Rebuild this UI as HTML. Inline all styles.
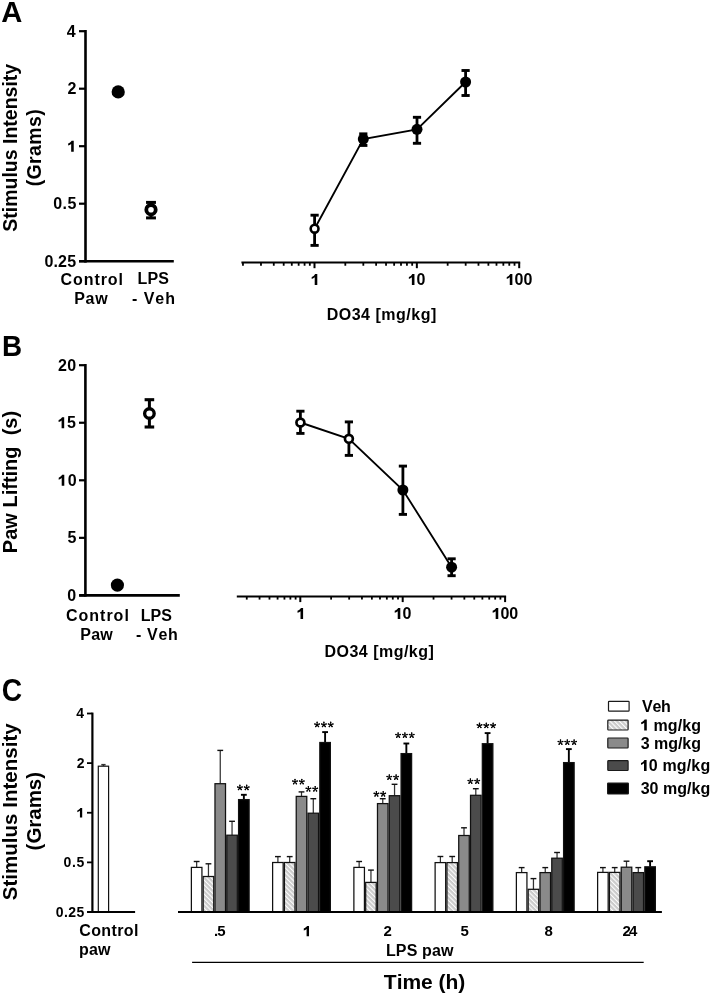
<!DOCTYPE html>
<html><head><meta charset="utf-8"><style>
html,body{margin:0;padding:0;background:#fff;}
body{width:711px;height:996px;overflow:hidden;}
svg{display:block;filter:grayscale(1);}
text{font-family:"Liberation Sans", sans-serif;font-weight:bold;fill:#000;font-kerning:none;font-feature-settings:"kern" 0;white-space:pre;}
</style></head><body>
<svg width="711" height="996" viewBox="0 0 711 996">
<defs>
<pattern id="hatch" patternUnits="userSpaceOnUse" width="3.3" height="3.3" patternTransform="rotate(-45)">
<rect width="3.3" height="3.3" fill="#cbcbcb"/>
<rect x="0" y="0" width="1.05" height="3.3" fill="#fff"/>
</pattern>
</defs>
<rect width="711" height="996" fill="#fff"/>
<text x="1.27" y="21.60" font-size="29.2">A</text>
<text transform="translate(16.50,231.20) rotate(-90)" x="-0.56" y="0" font-size="19.5">Stimulus&#160;Intensity</text>
<text transform="translate(41.00,185.30) rotate(-90)" x="-0.97" y="0" font-size="19.5" letter-spacing="0.362">(Grams)</text>
<line x1="85.50" y1="30.00" x2="85.50" y2="262.60" stroke="#000" stroke-width="2.6"/>
<line x1="79.00" y1="261.30" x2="173.80" y2="261.30" stroke="#000" stroke-width="2.6"/>
<line x1="79.00" y1="31.20" x2="85.50" y2="31.20" stroke="#000" stroke-width="2.2"/>
<text x="66.85" y="36.70" font-size="16">4</text>
<line x1="79.00" y1="88.70" x2="85.50" y2="88.70" stroke="#000" stroke-width="2.2"/>
<text x="67.44" y="94.20" font-size="16">2</text>
<line x1="79.00" y1="146.20" x2="85.50" y2="146.20" stroke="#000" stroke-width="2.2"/>
<path transform="translate(66.981,151.700) scale(0.007812,-0.007812)" d="M866 0L535 0L535 990Q370 850 150 790L150 1045Q300 1100 430 1210Q540 1310 590 1409L866 1409Z"/>
<line x1="79.00" y1="203.70" x2="85.50" y2="203.70" stroke="#000" stroke-width="2.2"/>
<text x="53.27" y="209.20" font-size="16" letter-spacing="0.418">0.5</text>
<line x1="79.00" y1="261.20" x2="85.50" y2="261.20" stroke="#000" stroke-width="2.2"/>
<text x="44.47" y="266.70" font-size="16" letter-spacing="0.146">0.25</text>
<text x="60.54" y="284.80" font-size="16" letter-spacing="0.936">Control</text>
<text x="74.13" y="303.70" font-size="16" letter-spacing="0.762">Paw</text>
<text x="137.53" y="284.20" font-size="16" letter-spacing="0.189">LPS</text>
<text x="131.97" y="303.50" font-size="16" letter-spacing="0.975">-&#160;Veh</text>
<circle cx="118.20" cy="91.90" r="6.6" fill="#000"/>
<line x1="151.00" y1="202.40" x2="151.00" y2="217.90" stroke="#000" stroke-width="3.0"/>
<line x1="146.05" y1="202.40" x2="155.95" y2="202.40" stroke="#000" stroke-width="3.0"/>
<line x1="146.05" y1="217.90" x2="155.95" y2="217.90" stroke="#000" stroke-width="3.0"/>
<circle cx="151.00" cy="209.70" r="4.70" fill="#fff" stroke="#000" stroke-width="3.80"/>
<line x1="241.40" y1="262.50" x2="520.20" y2="262.50" stroke="#000" stroke-width="2.0"/>
<line x1="242.96" y1="262.50" x2="242.96" y2="265.75" stroke="#000" stroke-width="1.8"/>
<line x1="260.98" y1="262.50" x2="260.98" y2="265.75" stroke="#000" stroke-width="1.8"/>
<line x1="273.77" y1="262.50" x2="273.77" y2="265.75" stroke="#000" stroke-width="1.8"/>
<line x1="283.69" y1="262.50" x2="283.69" y2="265.75" stroke="#000" stroke-width="1.8"/>
<line x1="291.79" y1="262.50" x2="291.79" y2="265.75" stroke="#000" stroke-width="1.8"/>
<line x1="298.65" y1="262.50" x2="298.65" y2="265.75" stroke="#000" stroke-width="1.8"/>
<line x1="304.58" y1="262.50" x2="304.58" y2="265.75" stroke="#000" stroke-width="1.8"/>
<line x1="309.82" y1="262.50" x2="309.82" y2="265.75" stroke="#000" stroke-width="1.8"/>
<line x1="345.31" y1="262.50" x2="345.31" y2="265.75" stroke="#000" stroke-width="1.8"/>
<line x1="363.33" y1="262.50" x2="363.33" y2="265.75" stroke="#000" stroke-width="1.8"/>
<line x1="376.12" y1="262.50" x2="376.12" y2="265.75" stroke="#000" stroke-width="1.8"/>
<line x1="386.04" y1="262.50" x2="386.04" y2="265.75" stroke="#000" stroke-width="1.8"/>
<line x1="394.14" y1="262.50" x2="394.14" y2="265.75" stroke="#000" stroke-width="1.8"/>
<line x1="401.00" y1="262.50" x2="401.00" y2="265.75" stroke="#000" stroke-width="1.8"/>
<line x1="406.93" y1="262.50" x2="406.93" y2="265.75" stroke="#000" stroke-width="1.8"/>
<line x1="412.17" y1="262.50" x2="412.17" y2="265.75" stroke="#000" stroke-width="1.8"/>
<line x1="447.66" y1="262.50" x2="447.66" y2="265.75" stroke="#000" stroke-width="1.8"/>
<line x1="465.68" y1="262.50" x2="465.68" y2="265.75" stroke="#000" stroke-width="1.8"/>
<line x1="478.47" y1="262.50" x2="478.47" y2="265.75" stroke="#000" stroke-width="1.8"/>
<line x1="488.39" y1="262.50" x2="488.39" y2="265.75" stroke="#000" stroke-width="1.8"/>
<line x1="496.49" y1="262.50" x2="496.49" y2="265.75" stroke="#000" stroke-width="1.8"/>
<line x1="503.35" y1="262.50" x2="503.35" y2="265.75" stroke="#000" stroke-width="1.8"/>
<line x1="509.28" y1="262.50" x2="509.28" y2="265.75" stroke="#000" stroke-width="1.8"/>
<line x1="514.52" y1="262.50" x2="514.52" y2="265.75" stroke="#000" stroke-width="1.8"/>
<line x1="314.50" y1="262.50" x2="314.50" y2="268.20" stroke="#000" stroke-width="2.0"/>
<line x1="416.85" y1="262.50" x2="416.85" y2="268.20" stroke="#000" stroke-width="2.0"/>
<line x1="519.20" y1="262.50" x2="519.20" y2="268.20" stroke="#000" stroke-width="2.0"/>
<path transform="translate(310.531,285.100) scale(0.007812,-0.007812)" d="M866 0L535 0L535 990Q370 850 150 790L150 1045Q300 1100 430 1210Q540 1310 590 1409L866 1409Z"/>
<path transform="translate(407.694,285.100) scale(0.007812,-0.007812)" d="M866 0L535 0L535 990Q370 850 150 790L150 1045Q300 1100 430 1210Q540 1310 590 1409L866 1409Z"/>
<text x="416.59" y="285.10" font-size="16">0</text>
<path transform="translate(505.595,285.100) scale(0.007812,-0.007812)" d="M866 0L535 0L535 990Q370 850 150 790L150 1045Q300 1100 430 1210Q540 1310 590 1409L866 1409Z"/>
<text x="514.49" y="285.10" font-size="16">00</text>
<text x="326.63" y="319.50" font-size="16" letter-spacing="0.514">DO34&#160;[mg/kg]</text>
<polyline points="314.60,228.70 363.30,139.10 417.00,129.30 465.60,82.00" fill="none" stroke="#000" stroke-width="1.85"/>
<line x1="314.60" y1="215.20" x2="314.60" y2="245.40" stroke="#000" stroke-width="2.8"/>
<line x1="310.50" y1="215.20" x2="318.70" y2="215.20" stroke="#000" stroke-width="2.9"/>
<line x1="310.50" y1="245.40" x2="318.70" y2="245.40" stroke="#000" stroke-width="2.9"/>
<circle cx="314.60" cy="228.70" r="3.90" fill="#fff" stroke="#000" stroke-width="2.60"/>
<line x1="363.30" y1="133.85" x2="363.30" y2="145.45" stroke="#000" stroke-width="2.8"/>
<line x1="359.20" y1="133.85" x2="367.40" y2="133.85" stroke="#000" stroke-width="2.9"/>
<line x1="359.20" y1="145.45" x2="367.40" y2="145.45" stroke="#000" stroke-width="2.9"/>
<circle cx="363.30" cy="139.10" r="5.5" fill="#000"/>
<line x1="417.00" y1="117.30" x2="417.00" y2="143.30" stroke="#000" stroke-width="2.8"/>
<line x1="412.90" y1="117.30" x2="421.10" y2="117.30" stroke="#000" stroke-width="2.9"/>
<line x1="412.90" y1="143.30" x2="421.10" y2="143.30" stroke="#000" stroke-width="2.9"/>
<circle cx="417.00" cy="129.30" r="5.5" fill="#000"/>
<line x1="465.60" y1="70.50" x2="465.60" y2="95.50" stroke="#000" stroke-width="2.8"/>
<line x1="461.50" y1="70.50" x2="469.70" y2="70.50" stroke="#000" stroke-width="2.9"/>
<line x1="461.50" y1="95.50" x2="469.70" y2="95.50" stroke="#000" stroke-width="2.9"/>
<circle cx="465.60" cy="82.00" r="5.5" fill="#000"/>
<text transform="translate(3.80,355.60) scale(0.96,1)" x="-1.94" y="0" font-size="29.0">B</text>
<text transform="translate(16.80,551.80) rotate(-90)" x="-1.34" y="0" font-size="20">Paw&#160;Lifting&#160;&#160;(s)</text>
<line x1="85.40" y1="364.00" x2="85.40" y2="596.60" stroke="#000" stroke-width="2.6"/>
<line x1="79.20" y1="595.40" x2="179.80" y2="595.40" stroke="#000" stroke-width="2.6"/>
<line x1="79.00" y1="365.20" x2="85.40" y2="365.20" stroke="#000" stroke-width="2.2"/>
<text x="58.05" y="370.70" font-size="16" letter-spacing="0.314">20</text>
<line x1="79.00" y1="422.75" x2="85.40" y2="422.75" stroke="#000" stroke-width="2.2"/>
<path transform="translate(57.428,428.250) scale(0.007812,-0.007812)" d="M866 0L535 0L535 990Q370 850 150 790L150 1045Q300 1100 430 1210Q540 1310 590 1409L866 1409Z"/>
<text x="67.05" y="428.25" font-size="16" letter-spacing="0.720">5</text>
<line x1="79.00" y1="480.30" x2="85.40" y2="480.30" stroke="#000" stroke-width="2.2"/>
<path transform="translate(57.528,485.800) scale(0.007812,-0.007812)" d="M866 0L535 0L535 990Q370 850 150 790L150 1045Q300 1100 430 1210Q540 1310 590 1409L866 1409Z"/>
<text x="67.66" y="485.80" font-size="16" letter-spacing="1.231">0</text>
<line x1="79.00" y1="537.85" x2="85.40" y2="537.85" stroke="#000" stroke-width="2.2"/>
<text x="67.38" y="543.35" font-size="16">5</text>
<line x1="79.00" y1="595.40" x2="85.40" y2="595.40" stroke="#000" stroke-width="2.2"/>
<text x="67.16" y="600.90" font-size="16">0</text>
<text x="66.04" y="620.60" font-size="16" letter-spacing="0.986">Control</text>
<text x="80.33" y="639.60" font-size="16" letter-spacing="0.162">Paw</text>
<text x="140.73" y="620.60" font-size="16" letter-spacing="0.039">LPS</text>
<text x="135.88" y="639.60" font-size="16" letter-spacing="0.725">-&#160;Veh</text>
<circle cx="117.40" cy="585.10" r="6.6" fill="#000"/>
<line x1="149.40" y1="399.70" x2="149.40" y2="427.00" stroke="#000" stroke-width="3.0"/>
<line x1="144.60" y1="399.70" x2="154.20" y2="399.70" stroke="#000" stroke-width="3.1"/>
<line x1="144.60" y1="427.00" x2="154.20" y2="427.00" stroke="#000" stroke-width="3.1"/>
<circle cx="149.40" cy="413.50" r="4.78" fill="#fff" stroke="#000" stroke-width="3.35"/>
<line x1="236.80" y1="596.40" x2="506.10" y2="596.40" stroke="#000" stroke-width="2.0"/>
<line x1="246.76" y1="596.40" x2="246.76" y2="599.60" stroke="#000" stroke-width="1.8"/>
<line x1="259.55" y1="596.40" x2="259.55" y2="599.60" stroke="#000" stroke-width="1.8"/>
<line x1="269.47" y1="596.40" x2="269.47" y2="599.60" stroke="#000" stroke-width="1.8"/>
<line x1="277.58" y1="596.40" x2="277.58" y2="599.60" stroke="#000" stroke-width="1.8"/>
<line x1="284.44" y1="596.40" x2="284.44" y2="599.60" stroke="#000" stroke-width="1.8"/>
<line x1="290.38" y1="596.40" x2="290.38" y2="599.60" stroke="#000" stroke-width="1.8"/>
<line x1="295.61" y1="596.40" x2="295.61" y2="599.60" stroke="#000" stroke-width="1.8"/>
<line x1="331.13" y1="596.40" x2="331.13" y2="599.60" stroke="#000" stroke-width="1.8"/>
<line x1="349.16" y1="596.40" x2="349.16" y2="599.60" stroke="#000" stroke-width="1.8"/>
<line x1="361.95" y1="596.40" x2="361.95" y2="599.60" stroke="#000" stroke-width="1.8"/>
<line x1="371.87" y1="596.40" x2="371.87" y2="599.60" stroke="#000" stroke-width="1.8"/>
<line x1="379.98" y1="596.40" x2="379.98" y2="599.60" stroke="#000" stroke-width="1.8"/>
<line x1="386.84" y1="596.40" x2="386.84" y2="599.60" stroke="#000" stroke-width="1.8"/>
<line x1="392.78" y1="596.40" x2="392.78" y2="599.60" stroke="#000" stroke-width="1.8"/>
<line x1="398.01" y1="596.40" x2="398.01" y2="599.60" stroke="#000" stroke-width="1.8"/>
<line x1="433.53" y1="596.40" x2="433.53" y2="599.60" stroke="#000" stroke-width="1.8"/>
<line x1="451.56" y1="596.40" x2="451.56" y2="599.60" stroke="#000" stroke-width="1.8"/>
<line x1="464.35" y1="596.40" x2="464.35" y2="599.60" stroke="#000" stroke-width="1.8"/>
<line x1="474.27" y1="596.40" x2="474.27" y2="599.60" stroke="#000" stroke-width="1.8"/>
<line x1="482.38" y1="596.40" x2="482.38" y2="599.60" stroke="#000" stroke-width="1.8"/>
<line x1="489.24" y1="596.40" x2="489.24" y2="599.60" stroke="#000" stroke-width="1.8"/>
<line x1="495.18" y1="596.40" x2="495.18" y2="599.60" stroke="#000" stroke-width="1.8"/>
<line x1="500.41" y1="596.40" x2="500.41" y2="599.60" stroke="#000" stroke-width="1.8"/>
<line x1="300.30" y1="596.40" x2="300.30" y2="602.10" stroke="#000" stroke-width="2.0"/>
<line x1="402.70" y1="596.40" x2="402.70" y2="602.10" stroke="#000" stroke-width="2.0"/>
<line x1="505.10" y1="596.40" x2="505.10" y2="602.10" stroke="#000" stroke-width="2.0"/>
<path transform="translate(296.331,619.000) scale(0.007812,-0.007812)" d="M866 0L535 0L535 990Q370 850 150 790L150 1045Q300 1100 430 1210Q540 1310 590 1409L866 1409Z"/>
<path transform="translate(393.544,619.000) scale(0.007812,-0.007812)" d="M866 0L535 0L535 990Q370 850 150 790L150 1045Q300 1100 430 1210Q540 1310 590 1409L866 1409Z"/>
<text x="402.44" y="619.00" font-size="16">0</text>
<path transform="translate(491.495,619.000) scale(0.007812,-0.007812)" d="M866 0L535 0L535 990Q370 850 150 790L150 1045Q300 1100 430 1210Q540 1310 590 1409L866 1409Z"/>
<text x="500.39" y="619.00" font-size="16">00</text>
<text x="324.53" y="657.40" font-size="16" letter-spacing="0.478">DO34&#160;[mg/kg]</text>
<polyline points="300.40,422.50 348.90,438.80 402.90,490.00 451.60,567.20" fill="none" stroke="#000" stroke-width="1.85"/>
<line x1="300.40" y1="411.20" x2="300.40" y2="433.40" stroke="#000" stroke-width="2.8"/>
<line x1="296.30" y1="411.20" x2="304.50" y2="411.20" stroke="#000" stroke-width="2.9"/>
<line x1="296.30" y1="433.40" x2="304.50" y2="433.40" stroke="#000" stroke-width="2.9"/>
<circle cx="300.40" cy="422.50" r="3.95" fill="#fff" stroke="#000" stroke-width="2.70"/>
<line x1="348.90" y1="421.90" x2="348.90" y2="455.40" stroke="#000" stroke-width="2.8"/>
<line x1="344.80" y1="421.90" x2="353.00" y2="421.90" stroke="#000" stroke-width="2.9"/>
<line x1="344.80" y1="455.40" x2="353.00" y2="455.40" stroke="#000" stroke-width="2.9"/>
<circle cx="348.90" cy="438.80" r="3.95" fill="#fff" stroke="#000" stroke-width="2.70"/>
<line x1="402.90" y1="466.10" x2="402.90" y2="514.40" stroke="#000" stroke-width="2.8"/>
<line x1="398.80" y1="466.10" x2="407.00" y2="466.10" stroke="#000" stroke-width="2.9"/>
<line x1="398.80" y1="514.40" x2="407.00" y2="514.40" stroke="#000" stroke-width="2.9"/>
<circle cx="402.90" cy="490.00" r="5.5" fill="#000"/>
<line x1="451.60" y1="558.80" x2="451.60" y2="575.70" stroke="#000" stroke-width="2.8"/>
<line x1="447.50" y1="558.80" x2="455.70" y2="558.80" stroke="#000" stroke-width="2.9"/>
<line x1="447.50" y1="575.70" x2="455.70" y2="575.70" stroke="#000" stroke-width="2.9"/>
<circle cx="451.60" cy="567.20" r="5.5" fill="#000"/>
<text transform="translate(2.95,700.70) scale(0.91,1)" x="-1.27" y="0" font-size="31.0">C</text>
<text transform="translate(17.40,899.70) rotate(-90)" x="-0.59" y="0" font-size="20.5" letter-spacing="0.026">Stimulus&#160;Intensity</text>
<text transform="translate(41.20,849.40) rotate(-90)" x="-1.02" y="0" font-size="20.5" letter-spacing="-0.027">(Grams)</text>
<line x1="92.40" y1="712.60" x2="92.40" y2="913.00" stroke="#000" stroke-width="2.2"/>
<line x1="87.00" y1="713.50" x2="92.40" y2="713.50" stroke="#000" stroke-width="1.8"/>
<text x="76.14" y="718.30" font-size="14">4</text>
<line x1="87.00" y1="763.12" x2="92.40" y2="763.12" stroke="#000" stroke-width="1.8"/>
<text x="76.69" y="767.92" font-size="14">2</text>
<line x1="87.00" y1="812.75" x2="92.40" y2="812.75" stroke="#000" stroke-width="1.8"/>
<path transform="translate(76.277,817.550) scale(0.006836,-0.006836)" d="M866 0L535 0L535 990Q370 850 150 790L150 1045Q300 1100 430 1210Q540 1310 590 1409L866 1409Z"/>
<line x1="87.00" y1="862.38" x2="92.40" y2="862.38" stroke="#000" stroke-width="1.8"/>
<text x="63.55" y="867.17" font-size="14" letter-spacing="0.591">0.5</text>
<line x1="87.00" y1="912.00" x2="92.40" y2="912.00" stroke="#000" stroke-width="1.8"/>
<text x="55.75" y="916.80" font-size="14" letter-spacing="0.398">0.25</text>
<line x1="103.45" y1="766.20" x2="103.45" y2="764.70" stroke="#333" stroke-width="1.2"/>
<line x1="101.30" y1="764.70" x2="105.60" y2="764.70" stroke="#333" stroke-width="1.6"/>
<rect x="98.3" y="766.2" width="10.3" height="145.80" fill="#fff" stroke="#111" stroke-width="1.2"/>
<text x="79.24" y="936.20" font-size="16" letter-spacing="0.369">Control</text>
<text x="79.05" y="954.90" font-size="16" letter-spacing="0.203">paw</text>
<line x1="196.65" y1="867.40" x2="196.65" y2="861.50" stroke="#333" stroke-width="1.25"/>
<line x1="193.75" y1="861.50" x2="199.55" y2="861.50" stroke="#111" stroke-width="1.4"/>
<rect x="191.38" y="867.40" width="10.55" height="44.60" fill="#fff" stroke="#111" stroke-width="1.25"/>
<line x1="208.45" y1="876.50" x2="208.45" y2="863.80" stroke="#333" stroke-width="1.25"/>
<line x1="205.55" y1="863.80" x2="211.35" y2="863.80" stroke="#111" stroke-width="1.4"/>
<rect x="203.18" y="876.50" width="10.55" height="35.50" fill="url(#hatch)" stroke="#111" stroke-width="1.25"/>
<line x1="220.25" y1="783.70" x2="220.25" y2="750.40" stroke="#333" stroke-width="1.25"/>
<line x1="217.35" y1="750.40" x2="223.15" y2="750.40" stroke="#111" stroke-width="1.4"/>
<rect x="214.97" y="783.70" width="10.55" height="128.30" fill="#8a8a8a" stroke="#111" stroke-width="1.25"/>
<line x1="232.05" y1="835.20" x2="232.05" y2="821.30" stroke="#333" stroke-width="1.25"/>
<line x1="229.15" y1="821.30" x2="234.95" y2="821.30" stroke="#111" stroke-width="1.4"/>
<rect x="226.78" y="835.20" width="10.55" height="76.80" fill="#4b4b4b" stroke="#111" stroke-width="1.25"/>
<line x1="243.85" y1="799.60" x2="243.85" y2="794.80" stroke="#000" stroke-width="1.9"/>
<line x1="240.95" y1="794.80" x2="246.75" y2="794.80" stroke="#000" stroke-width="1.9"/>
<rect x="238.57" y="799.60" width="10.55" height="112.40" fill="#000" stroke="#111" stroke-width="1.25"/>
<line x1="277.90" y1="862.50" x2="277.90" y2="856.60" stroke="#333" stroke-width="1.25"/>
<line x1="275.00" y1="856.60" x2="280.80" y2="856.60" stroke="#111" stroke-width="1.4"/>
<rect x="272.62" y="862.50" width="10.55" height="49.50" fill="#fff" stroke="#111" stroke-width="1.25"/>
<line x1="289.70" y1="862.50" x2="289.70" y2="856.60" stroke="#333" stroke-width="1.25"/>
<line x1="286.80" y1="856.60" x2="292.60" y2="856.60" stroke="#111" stroke-width="1.4"/>
<rect x="284.43" y="862.50" width="10.55" height="49.50" fill="url(#hatch)" stroke="#111" stroke-width="1.25"/>
<line x1="301.50" y1="796.40" x2="301.50" y2="791.90" stroke="#333" stroke-width="1.25"/>
<line x1="298.60" y1="791.90" x2="304.40" y2="791.90" stroke="#111" stroke-width="1.4"/>
<rect x="296.23" y="796.40" width="10.55" height="115.60" fill="#8a8a8a" stroke="#111" stroke-width="1.25"/>
<line x1="313.30" y1="813.20" x2="313.30" y2="798.70" stroke="#333" stroke-width="1.25"/>
<line x1="310.40" y1="798.70" x2="316.20" y2="798.70" stroke="#111" stroke-width="1.4"/>
<rect x="308.02" y="813.20" width="10.55" height="98.80" fill="#4b4b4b" stroke="#111" stroke-width="1.25"/>
<line x1="325.10" y1="742.50" x2="325.10" y2="732.10" stroke="#000" stroke-width="1.9"/>
<line x1="322.20" y1="732.10" x2="328.00" y2="732.10" stroke="#000" stroke-width="1.9"/>
<rect x="319.82" y="742.50" width="10.55" height="169.50" fill="#000" stroke="#111" stroke-width="1.25"/>
<line x1="359.15" y1="867.40" x2="359.15" y2="861.50" stroke="#333" stroke-width="1.25"/>
<line x1="356.25" y1="861.50" x2="362.05" y2="861.50" stroke="#111" stroke-width="1.4"/>
<rect x="353.88" y="867.40" width="10.55" height="44.60" fill="#fff" stroke="#111" stroke-width="1.25"/>
<line x1="370.95" y1="882.40" x2="370.95" y2="870.10" stroke="#333" stroke-width="1.25"/>
<line x1="368.05" y1="870.10" x2="373.85" y2="870.10" stroke="#111" stroke-width="1.4"/>
<rect x="365.68" y="882.40" width="10.55" height="29.60" fill="url(#hatch)" stroke="#111" stroke-width="1.25"/>
<line x1="382.75" y1="803.60" x2="382.75" y2="798.70" stroke="#333" stroke-width="1.25"/>
<line x1="379.85" y1="798.70" x2="385.65" y2="798.70" stroke="#111" stroke-width="1.4"/>
<rect x="377.48" y="803.60" width="10.55" height="108.40" fill="#8a8a8a" stroke="#111" stroke-width="1.25"/>
<line x1="394.55" y1="795.70" x2="394.55" y2="784.30" stroke="#333" stroke-width="1.25"/>
<line x1="391.65" y1="784.30" x2="397.45" y2="784.30" stroke="#111" stroke-width="1.4"/>
<rect x="389.27" y="795.70" width="10.55" height="116.30" fill="#4b4b4b" stroke="#111" stroke-width="1.25"/>
<line x1="406.35" y1="753.60" x2="406.35" y2="743.50" stroke="#000" stroke-width="1.9"/>
<line x1="403.45" y1="743.50" x2="409.25" y2="743.50" stroke="#000" stroke-width="1.9"/>
<rect x="401.07" y="753.60" width="10.55" height="158.40" fill="#000" stroke="#111" stroke-width="1.25"/>
<line x1="440.40" y1="862.60" x2="440.40" y2="856.50" stroke="#333" stroke-width="1.25"/>
<line x1="437.50" y1="856.50" x2="443.30" y2="856.50" stroke="#111" stroke-width="1.4"/>
<rect x="435.12" y="862.60" width="10.55" height="49.40" fill="#fff" stroke="#111" stroke-width="1.25"/>
<line x1="452.20" y1="862.60" x2="452.20" y2="856.50" stroke="#333" stroke-width="1.25"/>
<line x1="449.30" y1="856.50" x2="455.10" y2="856.50" stroke="#111" stroke-width="1.4"/>
<rect x="446.93" y="862.60" width="10.55" height="49.40" fill="url(#hatch)" stroke="#111" stroke-width="1.25"/>
<line x1="464.00" y1="835.50" x2="464.00" y2="827.80" stroke="#333" stroke-width="1.25"/>
<line x1="461.10" y1="827.80" x2="466.90" y2="827.80" stroke="#111" stroke-width="1.4"/>
<rect x="458.73" y="835.50" width="10.55" height="76.50" fill="#8a8a8a" stroke="#111" stroke-width="1.25"/>
<line x1="475.80" y1="795.30" x2="475.80" y2="788.70" stroke="#333" stroke-width="1.25"/>
<line x1="472.90" y1="788.70" x2="478.70" y2="788.70" stroke="#111" stroke-width="1.4"/>
<rect x="470.52" y="795.30" width="10.55" height="116.70" fill="#4b4b4b" stroke="#111" stroke-width="1.25"/>
<line x1="487.60" y1="743.70" x2="487.60" y2="733.10" stroke="#000" stroke-width="1.9"/>
<line x1="484.70" y1="733.10" x2="490.50" y2="733.10" stroke="#000" stroke-width="1.9"/>
<rect x="482.32" y="743.70" width="10.55" height="168.30" fill="#000" stroke="#111" stroke-width="1.25"/>
<line x1="521.65" y1="872.60" x2="521.65" y2="867.60" stroke="#333" stroke-width="1.25"/>
<line x1="518.75" y1="867.60" x2="524.55" y2="867.60" stroke="#111" stroke-width="1.4"/>
<rect x="516.38" y="872.60" width="10.55" height="39.40" fill="#fff" stroke="#111" stroke-width="1.25"/>
<line x1="533.45" y1="889.30" x2="533.45" y2="878.60" stroke="#333" stroke-width="1.25"/>
<line x1="530.55" y1="878.60" x2="536.35" y2="878.60" stroke="#111" stroke-width="1.4"/>
<rect x="528.17" y="889.30" width="10.55" height="22.70" fill="url(#hatch)" stroke="#111" stroke-width="1.25"/>
<line x1="545.25" y1="872.60" x2="545.25" y2="867.60" stroke="#333" stroke-width="1.25"/>
<line x1="542.35" y1="867.60" x2="548.15" y2="867.60" stroke="#111" stroke-width="1.4"/>
<rect x="539.98" y="872.60" width="10.55" height="39.40" fill="#8a8a8a" stroke="#111" stroke-width="1.25"/>
<line x1="557.05" y1="858.20" x2="557.05" y2="852.50" stroke="#333" stroke-width="1.25"/>
<line x1="554.15" y1="852.50" x2="559.95" y2="852.50" stroke="#111" stroke-width="1.4"/>
<rect x="551.77" y="858.20" width="10.55" height="53.80" fill="#4b4b4b" stroke="#111" stroke-width="1.25"/>
<line x1="568.85" y1="762.60" x2="568.85" y2="749.10" stroke="#000" stroke-width="1.9"/>
<line x1="565.95" y1="749.10" x2="571.75" y2="749.10" stroke="#000" stroke-width="1.9"/>
<rect x="563.58" y="762.60" width="10.55" height="149.40" fill="#000" stroke="#111" stroke-width="1.25"/>
<line x1="602.90" y1="872.40" x2="602.90" y2="867.60" stroke="#333" stroke-width="1.25"/>
<line x1="600.00" y1="867.60" x2="605.80" y2="867.60" stroke="#111" stroke-width="1.4"/>
<rect x="597.62" y="872.40" width="10.55" height="39.60" fill="#fff" stroke="#111" stroke-width="1.25"/>
<line x1="614.70" y1="872.40" x2="614.70" y2="867.60" stroke="#333" stroke-width="1.25"/>
<line x1="611.80" y1="867.60" x2="617.60" y2="867.60" stroke="#111" stroke-width="1.4"/>
<rect x="609.42" y="872.40" width="10.55" height="39.60" fill="url(#hatch)" stroke="#111" stroke-width="1.25"/>
<line x1="626.50" y1="867.20" x2="626.50" y2="861.20" stroke="#333" stroke-width="1.25"/>
<line x1="623.60" y1="861.20" x2="629.40" y2="861.20" stroke="#111" stroke-width="1.4"/>
<rect x="621.23" y="867.20" width="10.55" height="44.80" fill="#8a8a8a" stroke="#111" stroke-width="1.25"/>
<line x1="638.30" y1="872.60" x2="638.30" y2="867.60" stroke="#333" stroke-width="1.25"/>
<line x1="635.40" y1="867.60" x2="641.20" y2="867.60" stroke="#111" stroke-width="1.4"/>
<rect x="633.02" y="872.60" width="10.55" height="39.40" fill="#4b4b4b" stroke="#111" stroke-width="1.25"/>
<line x1="650.10" y1="866.80" x2="650.10" y2="861.20" stroke="#000" stroke-width="1.9"/>
<line x1="647.20" y1="861.20" x2="653.00" y2="861.20" stroke="#000" stroke-width="1.9"/>
<rect x="644.83" y="866.80" width="10.55" height="45.20" fill="#000" stroke="#111" stroke-width="1.25"/>
<line x1="178.00" y1="912.00" x2="661.90" y2="912.00" stroke="#000" stroke-width="2.0"/>
<line x1="87.30" y1="912.00" x2="135.10" y2="912.00" stroke="#000" stroke-width="2.0"/>
<path d="M239.90 787.70L239.90 785.35M239.90 787.70L242.13 786.97M239.90 787.70L241.28 789.60M239.90 787.70L238.52 789.60M239.90 787.70L237.67 786.97" stroke="#000" stroke-width="1.15" stroke-linecap="round" fill="none"/><circle cx="239.90" cy="785.35" r="0.75"/><circle cx="242.13" cy="786.97" r="0.75"/><circle cx="241.28" cy="789.60" r="0.75"/><circle cx="238.52" cy="789.60" r="0.75"/><circle cx="237.67" cy="786.97" r="0.75"/>
<path d="M246.70 787.70L246.70 785.35M246.70 787.70L248.93 786.97M246.70 787.70L248.08 789.60M246.70 787.70L245.32 789.60M246.70 787.70L244.47 786.97" stroke="#000" stroke-width="1.15" stroke-linecap="round" fill="none"/><circle cx="246.70" cy="785.35" r="0.75"/><circle cx="248.93" cy="786.97" r="0.75"/><circle cx="248.08" cy="789.60" r="0.75"/><circle cx="245.32" cy="789.60" r="0.75"/><circle cx="244.47" cy="786.97" r="0.75"/>
<path d="M295.00 781.80L295.00 779.45M295.00 781.80L297.23 781.07M295.00 781.80L296.38 783.70M295.00 781.80L293.62 783.70M295.00 781.80L292.77 781.07" stroke="#000" stroke-width="1.15" stroke-linecap="round" fill="none"/><circle cx="295.00" cy="779.45" r="0.75"/><circle cx="297.23" cy="781.07" r="0.75"/><circle cx="296.38" cy="783.70" r="0.75"/><circle cx="293.62" cy="783.70" r="0.75"/><circle cx="292.77" cy="781.07" r="0.75"/>
<path d="M301.80 781.80L301.80 779.45M301.80 781.80L304.03 781.07M301.80 781.80L303.18 783.70M301.80 781.80L300.42 783.70M301.80 781.80L299.57 781.07" stroke="#000" stroke-width="1.15" stroke-linecap="round" fill="none"/><circle cx="301.80" cy="779.45" r="0.75"/><circle cx="304.03" cy="781.07" r="0.75"/><circle cx="303.18" cy="783.70" r="0.75"/><circle cx="300.42" cy="783.70" r="0.75"/><circle cx="299.57" cy="781.07" r="0.75"/>
<path d="M308.40 789.00L308.40 786.65M308.40 789.00L310.63 788.27M308.40 789.00L309.78 790.90M308.40 789.00L307.02 790.90M308.40 789.00L306.17 788.27" stroke="#000" stroke-width="1.15" stroke-linecap="round" fill="none"/><circle cx="308.40" cy="786.65" r="0.75"/><circle cx="310.63" cy="788.27" r="0.75"/><circle cx="309.78" cy="790.90" r="0.75"/><circle cx="307.02" cy="790.90" r="0.75"/><circle cx="306.17" cy="788.27" r="0.75"/>
<path d="M315.20 789.00L315.20 786.65M315.20 789.00L317.43 788.27M315.20 789.00L316.58 790.90M315.20 789.00L313.82 790.90M315.20 789.00L312.97 788.27" stroke="#000" stroke-width="1.15" stroke-linecap="round" fill="none"/><circle cx="315.20" cy="786.65" r="0.75"/><circle cx="317.43" cy="788.27" r="0.75"/><circle cx="316.58" cy="790.90" r="0.75"/><circle cx="313.82" cy="790.90" r="0.75"/><circle cx="312.97" cy="788.27" r="0.75"/>
<path d="M317.10 724.70L317.10 722.35M317.10 724.70L319.33 723.97M317.10 724.70L318.48 726.60M317.10 724.70L315.72 726.60M317.10 724.70L314.87 723.97" stroke="#000" stroke-width="1.15" stroke-linecap="round" fill="none"/><circle cx="317.10" cy="722.35" r="0.75"/><circle cx="319.33" cy="723.97" r="0.75"/><circle cx="318.48" cy="726.60" r="0.75"/><circle cx="315.72" cy="726.60" r="0.75"/><circle cx="314.87" cy="723.97" r="0.75"/>
<path d="M323.90 724.70L323.90 722.35M323.90 724.70L326.13 723.97M323.90 724.70L325.28 726.60M323.90 724.70L322.52 726.60M323.90 724.70L321.67 723.97" stroke="#000" stroke-width="1.15" stroke-linecap="round" fill="none"/><circle cx="323.90" cy="722.35" r="0.75"/><circle cx="326.13" cy="723.97" r="0.75"/><circle cx="325.28" cy="726.60" r="0.75"/><circle cx="322.52" cy="726.60" r="0.75"/><circle cx="321.67" cy="723.97" r="0.75"/>
<path d="M330.70 724.70L330.70 722.35M330.70 724.70L332.93 723.97M330.70 724.70L332.08 726.60M330.70 724.70L329.32 726.60M330.70 724.70L328.47 723.97" stroke="#000" stroke-width="1.15" stroke-linecap="round" fill="none"/><circle cx="330.70" cy="722.35" r="0.75"/><circle cx="332.93" cy="723.97" r="0.75"/><circle cx="332.08" cy="726.60" r="0.75"/><circle cx="329.32" cy="726.60" r="0.75"/><circle cx="328.47" cy="723.97" r="0.75"/>
<path d="M376.40 794.10L376.40 791.75M376.40 794.10L378.63 793.37M376.40 794.10L377.78 796.00M376.40 794.10L375.02 796.00M376.40 794.10L374.17 793.37" stroke="#000" stroke-width="1.15" stroke-linecap="round" fill="none"/><circle cx="376.40" cy="791.75" r="0.75"/><circle cx="378.63" cy="793.37" r="0.75"/><circle cx="377.78" cy="796.00" r="0.75"/><circle cx="375.02" cy="796.00" r="0.75"/><circle cx="374.17" cy="793.37" r="0.75"/>
<path d="M383.20 794.10L383.20 791.75M383.20 794.10L385.43 793.37M383.20 794.10L384.58 796.00M383.20 794.10L381.82 796.00M383.20 794.10L380.97 793.37" stroke="#000" stroke-width="1.15" stroke-linecap="round" fill="none"/><circle cx="383.20" cy="791.75" r="0.75"/><circle cx="385.43" cy="793.37" r="0.75"/><circle cx="384.58" cy="796.00" r="0.75"/><circle cx="381.82" cy="796.00" r="0.75"/><circle cx="380.97" cy="793.37" r="0.75"/>
<path d="M389.30 777.30L389.30 774.95M389.30 777.30L391.53 776.57M389.30 777.30L390.68 779.20M389.30 777.30L387.92 779.20M389.30 777.30L387.07 776.57" stroke="#000" stroke-width="1.15" stroke-linecap="round" fill="none"/><circle cx="389.30" cy="774.95" r="0.75"/><circle cx="391.53" cy="776.57" r="0.75"/><circle cx="390.68" cy="779.20" r="0.75"/><circle cx="387.92" cy="779.20" r="0.75"/><circle cx="387.07" cy="776.57" r="0.75"/>
<path d="M396.10 777.30L396.10 774.95M396.10 777.30L398.33 776.57M396.10 777.30L397.48 779.20M396.10 777.30L394.72 779.20M396.10 777.30L393.87 776.57" stroke="#000" stroke-width="1.15" stroke-linecap="round" fill="none"/><circle cx="396.10" cy="774.95" r="0.75"/><circle cx="398.33" cy="776.57" r="0.75"/><circle cx="397.48" cy="779.20" r="0.75"/><circle cx="394.72" cy="779.20" r="0.75"/><circle cx="393.87" cy="776.57" r="0.75"/>
<path d="M398.10 735.30L398.10 732.95M398.10 735.30L400.33 734.57M398.10 735.30L399.48 737.20M398.10 735.30L396.72 737.20M398.10 735.30L395.87 734.57" stroke="#000" stroke-width="1.15" stroke-linecap="round" fill="none"/><circle cx="398.10" cy="732.95" r="0.75"/><circle cx="400.33" cy="734.57" r="0.75"/><circle cx="399.48" cy="737.20" r="0.75"/><circle cx="396.72" cy="737.20" r="0.75"/><circle cx="395.87" cy="734.57" r="0.75"/>
<path d="M404.90 735.30L404.90 732.95M404.90 735.30L407.13 734.57M404.90 735.30L406.28 737.20M404.90 735.30L403.52 737.20M404.90 735.30L402.67 734.57" stroke="#000" stroke-width="1.15" stroke-linecap="round" fill="none"/><circle cx="404.90" cy="732.95" r="0.75"/><circle cx="407.13" cy="734.57" r="0.75"/><circle cx="406.28" cy="737.20" r="0.75"/><circle cx="403.52" cy="737.20" r="0.75"/><circle cx="402.67" cy="734.57" r="0.75"/>
<path d="M411.70 735.30L411.70 732.95M411.70 735.30L413.93 734.57M411.70 735.30L413.08 737.20M411.70 735.30L410.32 737.20M411.70 735.30L409.47 734.57" stroke="#000" stroke-width="1.15" stroke-linecap="round" fill="none"/><circle cx="411.70" cy="732.95" r="0.75"/><circle cx="413.93" cy="734.57" r="0.75"/><circle cx="413.08" cy="737.20" r="0.75"/><circle cx="410.32" cy="737.20" r="0.75"/><circle cx="409.47" cy="734.57" r="0.75"/>
<path d="M470.40 781.30L470.40 778.95M470.40 781.30L472.63 780.57M470.40 781.30L471.78 783.20M470.40 781.30L469.02 783.20M470.40 781.30L468.17 780.57" stroke="#000" stroke-width="1.15" stroke-linecap="round" fill="none"/><circle cx="470.40" cy="778.95" r="0.75"/><circle cx="472.63" cy="780.57" r="0.75"/><circle cx="471.78" cy="783.20" r="0.75"/><circle cx="469.02" cy="783.20" r="0.75"/><circle cx="468.17" cy="780.57" r="0.75"/>
<path d="M477.20 781.30L477.20 778.95M477.20 781.30L479.43 780.57M477.20 781.30L478.58 783.20M477.20 781.30L475.82 783.20M477.20 781.30L474.97 780.57" stroke="#000" stroke-width="1.15" stroke-linecap="round" fill="none"/><circle cx="477.20" cy="778.95" r="0.75"/><circle cx="479.43" cy="780.57" r="0.75"/><circle cx="478.58" cy="783.20" r="0.75"/><circle cx="475.82" cy="783.20" r="0.75"/><circle cx="474.97" cy="780.57" r="0.75"/>
<path d="M479.50 725.60L479.50 723.25M479.50 725.60L481.73 724.87M479.50 725.60L480.88 727.50M479.50 725.60L478.12 727.50M479.50 725.60L477.27 724.87" stroke="#000" stroke-width="1.15" stroke-linecap="round" fill="none"/><circle cx="479.50" cy="723.25" r="0.75"/><circle cx="481.73" cy="724.87" r="0.75"/><circle cx="480.88" cy="727.50" r="0.75"/><circle cx="478.12" cy="727.50" r="0.75"/><circle cx="477.27" cy="724.87" r="0.75"/>
<path d="M486.30 725.60L486.30 723.25M486.30 725.60L488.53 724.87M486.30 725.60L487.68 727.50M486.30 725.60L484.92 727.50M486.30 725.60L484.07 724.87" stroke="#000" stroke-width="1.15" stroke-linecap="round" fill="none"/><circle cx="486.30" cy="723.25" r="0.75"/><circle cx="488.53" cy="724.87" r="0.75"/><circle cx="487.68" cy="727.50" r="0.75"/><circle cx="484.92" cy="727.50" r="0.75"/><circle cx="484.07" cy="724.87" r="0.75"/>
<path d="M493.10 725.60L493.10 723.25M493.10 725.60L495.33 724.87M493.10 725.60L494.48 727.50M493.10 725.60L491.72 727.50M493.10 725.60L490.87 724.87" stroke="#000" stroke-width="1.15" stroke-linecap="round" fill="none"/><circle cx="493.10" cy="723.25" r="0.75"/><circle cx="495.33" cy="724.87" r="0.75"/><circle cx="494.48" cy="727.50" r="0.75"/><circle cx="491.72" cy="727.50" r="0.75"/><circle cx="490.87" cy="724.87" r="0.75"/>
<path d="M560.50 742.30L560.50 739.95M560.50 742.30L562.73 741.57M560.50 742.30L561.88 744.20M560.50 742.30L559.12 744.20M560.50 742.30L558.27 741.57" stroke="#000" stroke-width="1.15" stroke-linecap="round" fill="none"/><circle cx="560.50" cy="739.95" r="0.75"/><circle cx="562.73" cy="741.57" r="0.75"/><circle cx="561.88" cy="744.20" r="0.75"/><circle cx="559.12" cy="744.20" r="0.75"/><circle cx="558.27" cy="741.57" r="0.75"/>
<path d="M567.30 742.30L567.30 739.95M567.30 742.30L569.53 741.57M567.30 742.30L568.68 744.20M567.30 742.30L565.92 744.20M567.30 742.30L565.07 741.57" stroke="#000" stroke-width="1.15" stroke-linecap="round" fill="none"/><circle cx="567.30" cy="739.95" r="0.75"/><circle cx="569.53" cy="741.57" r="0.75"/><circle cx="568.68" cy="744.20" r="0.75"/><circle cx="565.92" cy="744.20" r="0.75"/><circle cx="565.07" cy="741.57" r="0.75"/>
<path d="M574.10 742.30L574.10 739.95M574.10 742.30L576.33 741.57M574.10 742.30L575.48 744.20M574.10 742.30L572.72 744.20M574.10 742.30L571.87 741.57" stroke="#000" stroke-width="1.15" stroke-linecap="round" fill="none"/><circle cx="574.10" cy="739.95" r="0.75"/><circle cx="576.33" cy="741.57" r="0.75"/><circle cx="575.48" cy="744.20" r="0.75"/><circle cx="572.72" cy="744.20" r="0.75"/><circle cx="571.87" cy="741.57" r="0.75"/>
<text x="214.08" y="936.20" font-size="15" letter-spacing="-0.974">.5</text>
<path transform="translate(302.679,936.200) scale(0.007324,-0.007324)" d="M866 0L535 0L535 990Q370 850 150 790L150 1045Q300 1100 430 1210Q540 1310 590 1409L866 1409Z"/>
<text x="383.42" y="936.20" font-size="15">2</text>
<text x="460.56" y="936.20" font-size="15">5</text>
<text x="544.57" y="936.20" font-size="15">8</text>
<text x="622.48" y="936.20" font-size="15" letter-spacing="-1.784">24</text>
<text x="385.93" y="956.10" font-size="16" letter-spacing="0.143">LPS&#160;paw</text>
<line x1="192.10" y1="962.30" x2="643.70" y2="962.30" stroke="#000" stroke-width="1.3"/>
<text x="383.86" y="989.10" font-size="21" letter-spacing="-0.026">Time&#160;(h)</text>
<rect x="608.50" y="701.40" width="20.60" height="9.70" rx="0.7" fill="#fff" stroke="#1a1a1a" stroke-width="1.2"/>
<text x="642.09" y="711.60" font-size="16" letter-spacing="-0.271">Veh</text>
<rect x="607.80" y="720.10" width="20.30" height="9.90" rx="0.7" fill="url(#hatch)" stroke="#1a1a1a" stroke-width="1.2"/>
<path transform="translate(640.028,730.500) scale(0.007812,-0.007812)" d="M866 0L535 0L535 990Q370 850 150 790L150 1045Q300 1100 430 1210Q540 1310 590 1409L866 1409Z"/>
<text x="649.01" y="730.50" font-size="16" letter-spacing="0.080">&#160;mg/kg</text>
<rect x="607.80" y="738.00" width="20.30" height="10.00" rx="0.7" fill="#8a8a8a" stroke="#1a1a1a" stroke-width="1.2"/>
<text x="640.83" y="748.50" font-size="16" letter-spacing="-0.054">3&#160;mg/kg</text>
<rect x="607.80" y="760.70" width="20.30" height="9.80" rx="0.7" fill="#4b4b4b" stroke="#1a1a1a" stroke-width="1.2"/>
<path transform="translate(639.828,771.100) scale(0.007812,-0.007812)" d="M866 0L535 0L535 990Q370 850 150 790L150 1045Q300 1100 430 1210Q540 1310 590 1409L866 1409Z"/>
<text x="648.87" y="771.10" font-size="16" letter-spacing="0.140">0&#160;mg/kg</text>
<rect x="607.60" y="783.10" width="20.80" height="10.90" rx="0.7" fill="#000" stroke="#1a1a1a" stroke-width="1.2"/>
<text x="640.63" y="793.90" font-size="16" letter-spacing="0.040">30&#160;mg/kg</text>
</svg>
</body></html>
